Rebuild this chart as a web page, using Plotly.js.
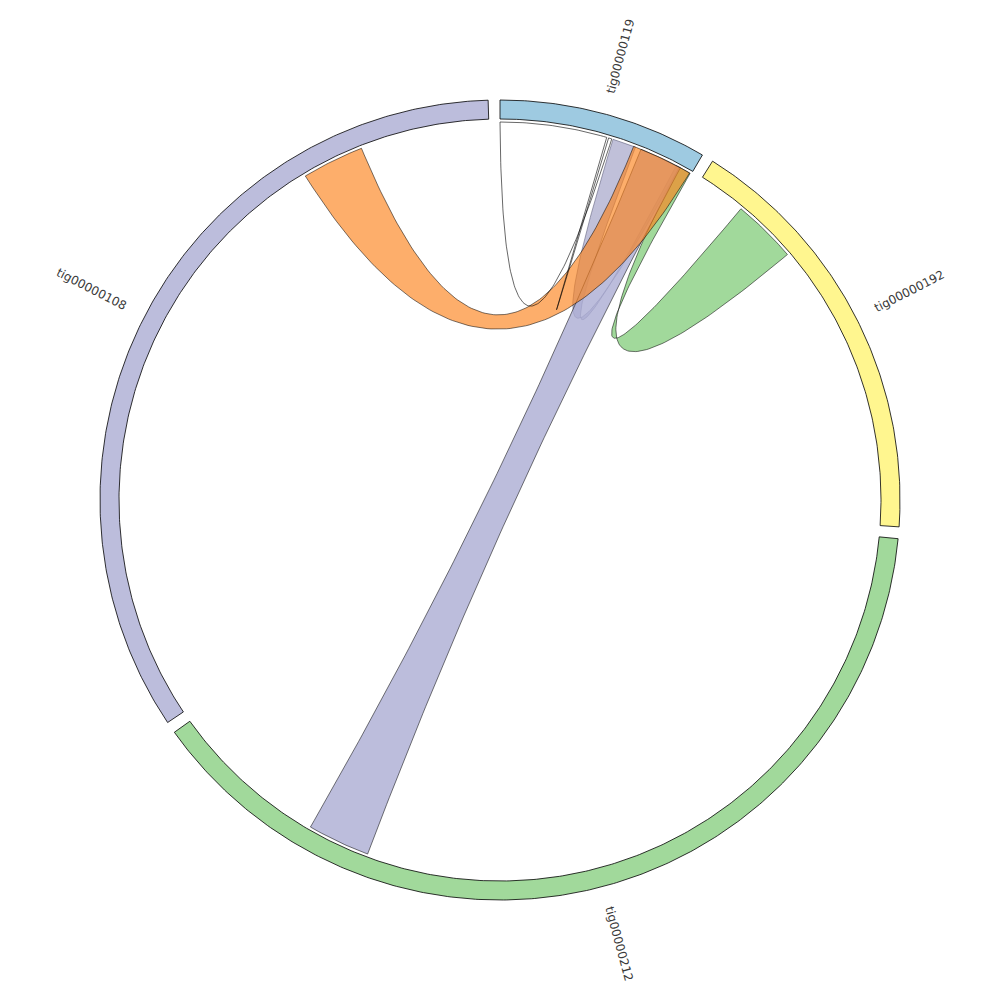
<!DOCTYPE html>
<html><head><meta charset="utf-8">
<script src="https://cdn.plot.ly/plotly-3.0.1.min.js"></script>
<style>html,body{margin:0;padding:0;background:#fff}</style>
</head><body><div id="chart" style="width:1000px;height:1000px"></div>
<script>
// Sectors (contigs), lengths in degree units, drawn clockwise from the top
const sectorNames = ['tig00000119', 'tig00000192', 'tig00000212', 'tig00000108'];
const sectorLengths = [30.4, 61.75, 138.95, 122.1];
const sectorColors = ['#9ecae1', '#fff68f', '#a1d99b', '#bcbddc'];

// Links (positions relative to each sector's start), in drawing order
const linkFromSector = ['tig00000192', 'tig00000119', 'tig00000212', 'tig00000108', 'tig00000119'];
const linkFromStart  = [7.5, 17.4, 104.95, 92.8, 0.0];
const linkFromEnd    = [17.4, 21.0, 114.55, 102.3, 16.4];
const linkToSector   = ['tig00000119', 'tig00000119', 'tig00000119', 'tig00000119', 'tig00000119'];
const linkToStart    = [28.3, 27.8, 21.9, 20.7, 16.7];
const linkToEnd      = [30.2, 28.3, 28.5, 30.1, 17.2];
const linkFill = ['rgba(137,207,130,0.8)', 'rgba(130,130,180,0.5)', 'rgba(171,172,211,0.8)',
                  'rgba(252,130,27,0.65)', 'rgba(255,255,255,0)'];
const linkLine = ['rgba(0,0,0,0.75)', 'rgba(80,80,110,0.75)', 'rgba(0,0,0,0.75)',
                  'rgba(0,0,0,0.75)', 'rgba(0,0,0,0.85)'];

// geometry constants
const R_OUT = 400, R_IN = 381, R_LINK = 378, R_LABEL = 460;
const GAP = 1.7, START = 0.0, CTRL = 0.05;

const sectorStart = {};
let acc = START;
sectorNames.forEach((n, i) => { sectorStart[n] = acc; acc += sectorLengths[i] + GAP; });

function pt(r, deg) { const a = deg * Math.PI / 180; return [r * Math.sin(a), r * Math.cos(a)]; }
function arc(r, a0, a1) {
  const n = Math.max(2, Math.ceil(Math.abs(a1 - a0) * 2));
  const out = [];
  for (let i = 0; i <= n; i++) out.push(pt(r, a0 + (a1 - a0) * i / n));
  return out;
}
function bez(p0, p2) {
  const c = [CTRL * (p0[0] + p2[0]) / 2, CTRL * (p0[1] + p2[1]) / 2];
  const out = [];
  const n = 100;
  for (let i = 1; i < n; i++) {
    const t = i / n, u = 1 - t;
    out.push([u * u * p0[0] + 2 * u * t * c[0] + t * t * p2[0], u * u * p0[1] + 2 * u * t * c[1] + t * t * p2[1]]);
  }
  return out;
}

const traces = [];
// sector ring
sectorNames.forEach((n, i) => {
  const a0 = sectorStart[n], a1 = a0 + sectorLengths[i];
  const pts = arc(R_OUT, a0, a1).concat(arc(R_IN, a1, a0));
  pts.push(pts[0]);
  traces.push({
    type: 'scatter', mode: 'lines', x: pts.map(p => p[0]), y: pts.map(p => p[1]),
    fill: 'toself', fillcolor: sectorColors[i], line: {color: '#000', width: 0.8},
    hoverinfo: 'skip', showlegend: false
  });
});
// links
for (let k = 0; k < linkFromSector.length; k++) {
  const a0 = sectorStart[linkFromSector[k]] + linkFromStart[k];
  const a1 = sectorStart[linkFromSector[k]] + linkFromEnd[k];
  const b0 = sectorStart[linkToSector[k]] + linkToStart[k];
  const b1 = sectorStart[linkToSector[k]] + linkToEnd[k];
  let pts = arc(R_LINK, a0, a1);
  pts = pts.concat(bez(pt(R_LINK, a1), pt(R_LINK, b0)));
  pts = pts.concat(arc(R_LINK, b0, b1));
  pts = pts.concat(bez(pt(R_LINK, b1), pt(R_LINK, a0)));
  pts.push(pts[0]);
  traces.push({
    type: 'scatter', mode: 'lines', x: pts.map(p => p[0]), y: pts.map(p => p[1]),
    fill: 'toself', fillcolor: linkFill[k], line: {color: linkLine[k], width: 0.7},
    hoverinfo: 'skip', showlegend: false
  });
}

// labels
const annotations = sectorNames.map((n, i) => {
  const mid = sectorStart[n] + sectorLengths[i] / 2;
  const p = pt(R_LABEL, mid);
  const ang = mid < 180 ? mid - 90 : mid - 270;
  return {x: p[0], y: p[1], xref: 'x', yref: 'y', text: n, showarrow: false,
          textangle: ang, xanchor: 'center', yanchor: 'middle',
          font: {family: 'DejaVu Sans, sans-serif', size: 12, color: '#3a3a3a'}};
});

const layout = {
  width: 1000, height: 1000, margin: {l: 0, r: 0, t: 0, b: 0},
  paper_bgcolor: '#fff', plot_bgcolor: '#fff', showlegend: false,
  xaxis: {range: [-500, 500], visible: false, fixedrange: true},
  yaxis: {range: [-500, 500], visible: false, fixedrange: true},
  annotations: annotations
};
Plotly.newPlot('chart', traces, layout, {displayModeBar: false, staticPlot: true});
</script></body></html>
